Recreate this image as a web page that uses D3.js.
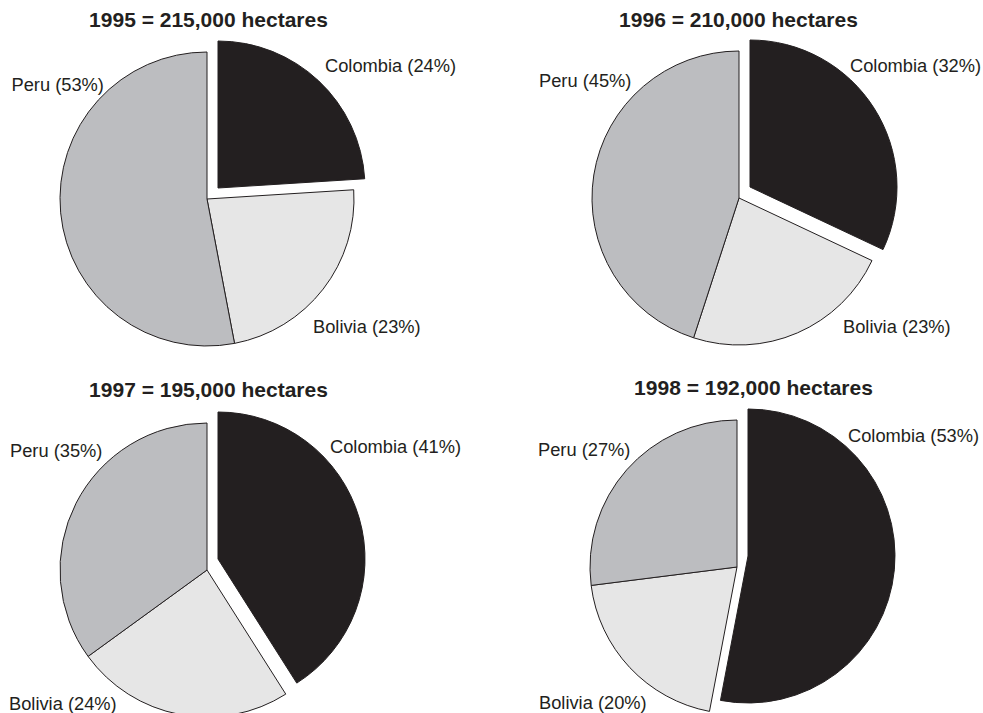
<!DOCTYPE html>
<html>
<head>
<meta charset="utf-8">
<script src="https://cdn.jsdelivr.net/npm/d3@7"></script>
<style>
  html, body { margin: 0; padding: 0; background: #fff; }
  svg { display: block; }
  text { font-family: "Liberation Sans", Arial, Helvetica, sans-serif; fill: #231f20; }
</style>
</head>
<body>
<svg id="chart" width="983" height="713"></svg>
<script>
// Coca cultivation shares by country, 1995–1998
const years = ["1995", "1996", "1997", "1998"];
const totals = ["215,000", "210,000", "195,000", "192,000"];
const countries = ["Colombia", "Bolivia", "Peru"];
const colombiaShare = [24, 32, 41, 53];
const boliviaShare = [23, 23, 24, 20];
const peruShare = [53, 45, 35, 27];

// Panel layout: pie centre, title anchor and label anchors (left x, baseline y)
const panels = [
  { cx: 207, cy: 199, title: [208.5, 26.5],
    labels: { Colombia: [325, 71.5], Bolivia: [313, 333], Peru: [11.5, 90.5] } },
  { cx: 739, cy: 198, title: [738.5, 26.5],
    labels: { Colombia: [850, 71.5], Bolivia: [843, 333], Peru: [539, 87] } },
  { cx: 207, cy: 570, title: [208.5, 396.5],
    labels: { Colombia: [330, 453], Bolivia: [9, 709.5], Peru: [10, 456.5] } },
  { cx: 737, cy: 567, title: [753.5, 395],
    labels: { Colombia: [848, 442], Bolivia: [539, 709], Peru: [538, 456] } }
];

const radius = 147;
const explode = [11, -11];   // Colombia wedge pulled out up-right

const color = d3.scaleOrdinal()
  .domain(countries)
  .range(["#231f20", "#e6e6e6", "#bcbdc0"]);

const pie = d3.pie().sort(null).value(d => d.value);
const arc = d3.arc().innerRadius(0).outerRadius(radius);

const svg = d3.select("#chart");

years.forEach((year, i) => {
  const p = panels[i];
  const data = [
    { name: "Colombia", value: colombiaShare[i] },
    { name: "Bolivia", value: boliviaShare[i] },
    { name: "Peru", value: peruShare[i] }
  ];

  const g = svg.append("g").attr("transform", `translate(${p.cx},${p.cy})`);

  g.selectAll("path")
    .data(pie(data))
    .join("path")
    .attr("d", arc)
    .attr("transform", d => d.data.name === "Colombia" ? `translate(${explode[0]},${explode[1]})` : null)
    .attr("fill", d => color(d.data.name))
    .attr("stroke", "#231f20")
    .attr("stroke-width", 1)
    .attr("stroke-linejoin", "miter");

  svg.append("text")
    .attr("x", p.title[0])
    .attr("y", p.title[1])
    .attr("text-anchor", "middle")
    .attr("font-size", 21)
    .attr("font-weight", "bold")
    .text(`${year} = ${totals[i]} hectares`);

  data.forEach(d => {
    const [lx, ly] = p.labels[d.name];
    svg.append("text")
      .attr("x", lx)
      .attr("y", ly)
      .attr("font-size", 18.3)
      .text(`${d.name} (${d.value}%)`);
  });
});
</script>
</body>
</html>
